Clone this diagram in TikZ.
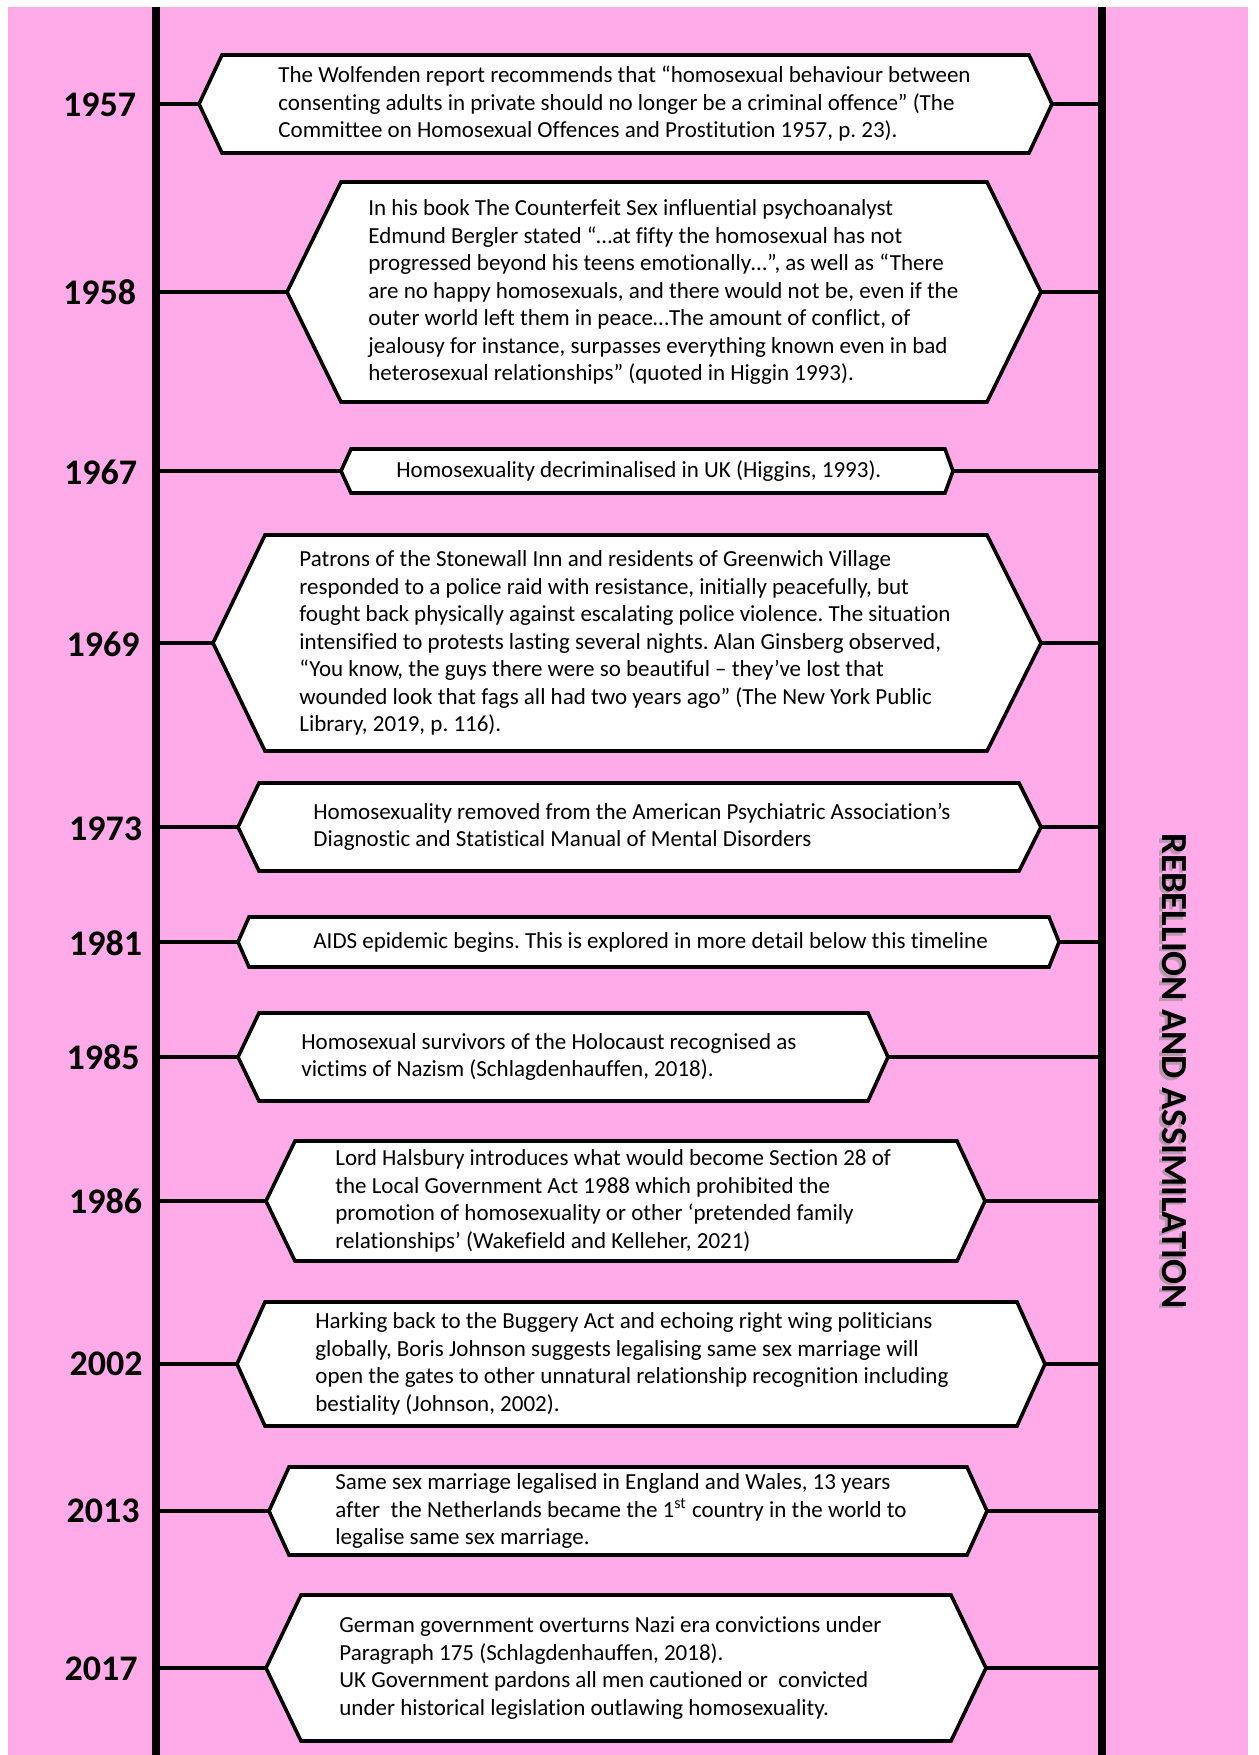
\documentclass[tikz,border=0pt]{standalone}
\usepackage{fontspec}
\setmainfont{Carlito}[Ligatures=NoCommon]
\frenchspacing
\definecolor{bgpink}{HTML}{FFAAE9}
\tikzset{
  axis/.style={line width=4.3pt, black},
  conn/.style={line width=1.8pt, black},
  hexbox/.style={line width=1.8pt, draw=black, fill=white, line join=miter},
  bodytext/.style={inner sep=0pt, align=left, text=black,
    font={\fontsize{11.5}{13.75}\selectfont}},
  yearlabel/.style={inner sep=0pt, font={\fontsize{18}{20}\selectfont\bfseries}},
  sidetitle/.style={inner sep=0pt, rotate=-90, font={\fontsize{18.4}{20}\selectfont\bfseries}},
}
% one timeline entry: year, centre y, half height, left tip x, left corner x,
% right corner x, right tip x, text left x, text
\newcommand\tlevent[9]{%
  \coordinate (L#1) at (#4,#2);
  \coordinate (R#1) at (#7,#2);
  \draw[conn] (axL |- L#1) -- (L#1);
  \draw[conn] (R#1) -- (axR |- R#1);
  \draw[hexbox] (L#1) -- (#5,{#2-#3}) -- (#6,{#2-#3}) -- (R#1)
     -- (#6,{#2+#3}) -- (#5,{#2+#3}) -- cycle;
  \node[bodytext, anchor=west] (t#1) at (#8,#2) {#9};
}
\begin{document}
\begin{tikzpicture}[x=0.5pt, y=-0.5pt]
\useasboundingbox (0,0) rectangle (1258,1755);
\fill[white] (0,0) rectangle (1258,1755);
\fill[bgpink] (8,7) rectangle (1248,1755);

% the two timeline rails
\coordinate (axL) at (156,0);
\coordinate (axR) at (1102,0);
\draw[axis] (156,7) -- (156,1755);
\draw[axis] (1102,7) -- (1102,1755);

\tlevent{1957}{104}{49}{199}{222}{1029}{1052}{278}{The Wolfenden report recommends that “homosexual behaviour between\\consenting adults in private should no longer be a criminal offence” (The\\Committee on Homosexual Offences and Prostitution 1957, p. 23).}

\tlevent{1958}{292}{110}{287}{341}{987}{1041}{368}{In his book The Counterfeit Sex influential psychoanalyst\\Edmund Bergler stated “…at fifty the homosexual has not\\progressed beyond his teens emotionally…”, as well as “There\\are no happy homosexuals, and there would not be, even if the\\outer world left them in peace…The amount of conflict, of\\jealousy for instance, surpasses everything known even in bad\\heterosexual relationships” (quoted in Higgin 1993).}

\tlevent{1967}{471}{22}{341}{351}{945}{953}{396}{Homosexuality decriminalised in UK (Higgins, 1993).}

\tlevent{1969}{643}{108}{213}{265}{987}{1041}{299}{Patrons of the Stonewall Inn and residents of Greenwich Village\\responded to a police raid with resistance, initially peacefully, but\\fought back physically against escalating police violence. The situation\\intensified to protests lasting several nights. Alan Ginsberg observed,\\“You know, the guys there were so beautiful – they’ve lost that\\wounded look that fags all had two years ago” (The New York Public\\Library, 2019, p. 116).}

\tlevent{1973}{827}{44}{238}{259}{1019}{1041}{313}{Homosexuality removed from the American Psychiatric Association’s\\Diagnostic and Statistical Manual of Mental Disorders}

\tlevent{1981}{942}{25}{238}{249}{1049}{1059}{313}{AIDS epidemic begins. This is explored in more detail below this timeline}

\tlevent{1985}{1057}{44}{238}{259}{868}{888}{301}{Homosexual survivors of the Holocaust recognised as\\victims of Nazism (Schlagdenhauffen, 2018).}

\tlevent{1986}{1201}{60}{266}{295}{957}{985}{335}{Lord Halsbury introduces what would become Section 28 of\\the Local Government Act 1988 which prohibited the\\promotion of homosexuality or other ‘pretended family\\relationships’ (Wakefield and Kelleher, 2021)}

\tlevent{2002}{1364}{62}{237}{265}{1017}{1045}{315}{Harking back to the Buggery Act and echoing right wing politicians\\globally, Boris Johnson suggests legalising same sex marriage will\\open the gates to other unnatural relationship recognition including\\bestiality (Johnson, 2002).}

\tlevent{2013}{1511}{44}{269}{289}{967}{987}{335}{Same sex marriage legalised in England and Wales, 13 years\\after\ \ the Netherlands became the 1\textsuperscript{st} country in the world to\\legalise same sex marriage.}

\tlevent{2017}{1668}{73}{266}{301}{951}{986}{339}{German government overturns Nazi era convictions under\\Paragraph 175 (Schlagdenhauffen, 2018).\\UK Government pardons all men cautioned or\ \ convicted\\under historical legislation outlawing homosexuality.}

% year labels beside the left rail
\node[yearlabel] (y1957) at (99.5,105) {1957};
\node[yearlabel] (y1958) at (99.5,292) {1958};
\node[yearlabel] (y1967) at (100.5,472) {1967};
\node[yearlabel] (y1969) at (103,644) {1969};
\node[yearlabel] (y1973) at (105.5,829) {1973};
\node[yearlabel] (y1981) at (105.5,943) {1981};
\node[yearlabel] (y1985) at (103,1057) {1985};
\node[yearlabel] (y1986) at (105.5,1201) {1986};
\node[yearlabel] (y2002) at (106,1364) {2002};
\node[yearlabel] (y2013) at (103,1511) {2013};
\node[yearlabel] (y2017) at (101,1669) {2017};

% vertical title on the right, with its soft shadow
\node[sidetitle, text=black!45, opacity=0.6] at (1171.5,1073.5) {REBELLION AND ASSIMILATION};
\node[sidetitle] (title) at (1174,1071) {REBELLION AND ASSIMILATION};
\end{tikzpicture}
\end{document}
